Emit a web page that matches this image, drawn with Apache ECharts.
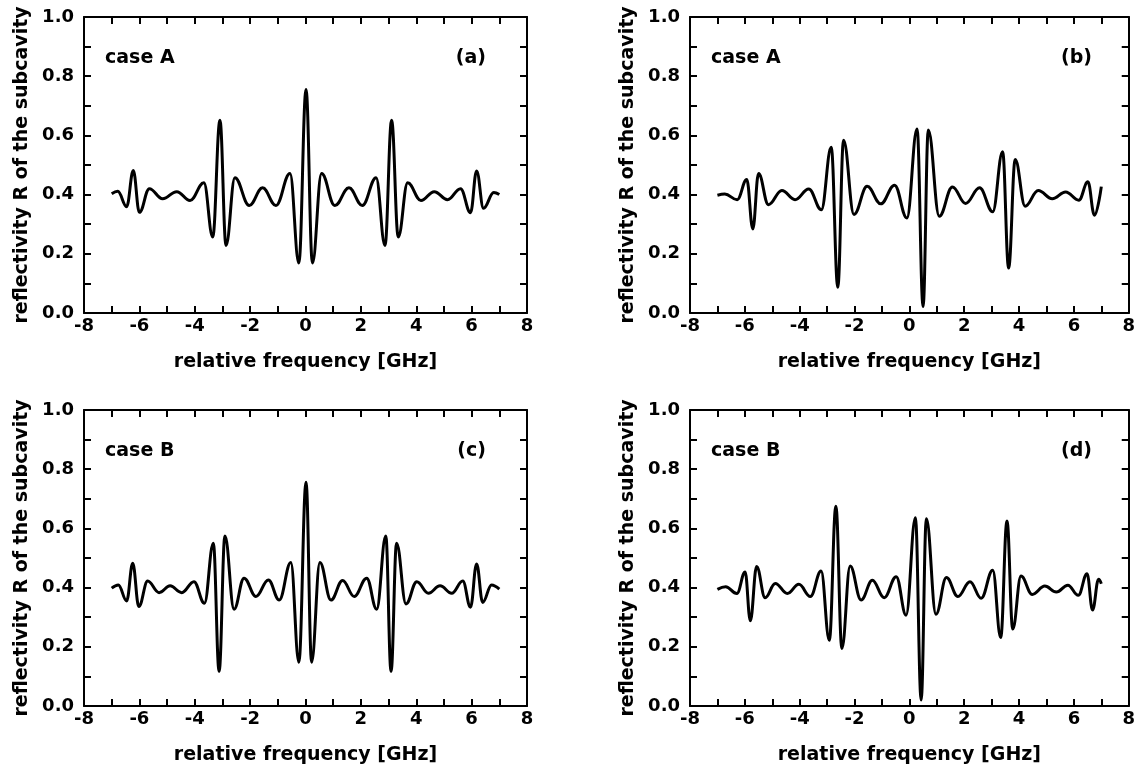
<!DOCTYPE html>
<html><head><meta charset="utf-8">
<script src="https://cdn.jsdelivr.net/npm/echarts@6/dist/echarts.min.js"></script>
<style>html,body{margin:0;padding:0;background:#fff}#c{width:1138px;height:769px}</style>
</head><body><div id="c"></div>
<script>
// Panel (a): case A
const freqA = [-7.0,-6.78,-6.46,-6.22,-6.0,-5.64,-5.16,-4.65,-4.17,-3.67,-3.35,-3.09,-2.87,-2.55,-2.03,-1.55,-1.07,-0.56,-0.24,0.02,0.25,0.58,1.06,1.57,2.05,2.55,2.87,3.11,3.35,3.69,4.17,4.65,5.13,5.60,5.96,6.18,6.43,6.80,7.0];
const reflA = [0.403,0.411,0.359,0.481,0.340,0.420,0.386,0.410,0.380,0.440,0.257,0.651,0.228,0.457,0.363,0.423,0.363,0.471,0.169,0.755,0.169,0.471,0.363,0.423,0.363,0.457,0.228,0.651,0.257,0.440,0.380,0.410,0.383,0.420,0.339,0.480,0.354,0.407,0.400];
// Panel (b): case A
const freqB = [-7.0,-6.73,-6.28,-5.93,-5.71,-5.50,-5.14,-4.65,-4.17,-3.67,-3.21,-2.85,-2.61,-2.40,-2.02,-1.54,-1.04,-0.54,-0.09,0.28,0.50,0.69,1.09,1.57,2.05,2.56,3.04,3.40,3.62,3.86,4.22,4.70,5.21,5.70,6.18,6.51,6.75,7.0];
const reflB = [0.398,0.402,0.383,0.451,0.284,0.471,0.366,0.414,0.383,0.419,0.349,0.560,0.087,0.584,0.333,0.428,0.369,0.432,0.321,0.622,0.022,0.618,0.327,0.426,0.370,0.423,0.342,0.545,0.152,0.519,0.361,0.414,0.386,0.409,0.381,0.443,0.330,0.427];
// Panel (c): case B
const freqC = [-7.0,-6.76,-6.46,-6.24,-6.02,-5.70,-5.29,-4.89,-4.47,-4.03,-3.65,-3.33,-3.12,-2.91,-2.58,-2.22,-1.79,-1.34,-0.95,-0.53,-0.24,0.02,0.22,0.52,0.92,1.34,1.76,2.21,2.57,2.90,3.09,3.29,3.63,4.02,4.44,4.86,5.28,5.68,5.96,6.18,6.40,6.72,7.0];
const reflC = [0.398,0.409,0.355,0.482,0.336,0.422,0.383,0.406,0.383,0.420,0.347,0.550,0.117,0.574,0.327,0.432,0.370,0.426,0.358,0.485,0.148,0.756,0.148,0.485,0.358,0.424,0.370,0.432,0.327,0.574,0.117,0.550,0.345,0.420,0.381,0.406,0.381,0.422,0.334,0.480,0.350,0.409,0.395];
// Panel (d): case B
const freqD = [-7.0,-6.70,-6.29,-5.99,-5.80,-5.57,-5.26,-4.89,-4.45,-4.03,-3.61,-3.22,-2.92,-2.68,-2.46,-2.16,-1.76,-1.35,-0.92,-0.48,-0.12,0.22,0.43,0.62,0.97,1.35,1.77,2.21,2.62,3.04,3.33,3.56,3.77,4.07,4.48,4.94,5.36,5.78,6.16,6.48,6.68,6.90,7.0];
const reflD = [0.394,0.403,0.380,0.453,0.288,0.471,0.366,0.414,0.380,0.411,0.370,0.456,0.222,0.675,0.194,0.473,0.358,0.425,0.366,0.437,0.307,0.636,0.020,0.633,0.310,0.434,0.370,0.420,0.364,0.459,0.231,0.625,0.260,0.439,0.377,0.405,0.385,0.408,0.374,0.447,0.324,0.428,0.413];

const caseLabels = ['case A','case A','case B','case B'];
const panelTags = ['(a)','(b)','(c)','(d)'];
const xTitle = 'relative frequency [GHz]';
const yTitle = 'reflectivity R of the subcavity';

const panels = [[freqA,reflA],[freqB,reflB],[freqC,reflC],[freqD,reflD]];
const FONT = '"DejaVu Sans", "Liberation Sans", Arial, sans-serif';
const gridPos = [{left:84,top:17},{left:690,top:17},{left:84,top:410},{left:690,top:410}];
const W = 443, H = 296;

const grid = [], xAxis = [], yAxis = [], series = [], title = [];
const mkTick = () => ({show:true, inside:true, length:7, lineStyle:{color:'#000', width:2}});
const mkLine = () => ({show:true, onZero:false, lineStyle:{color:'#000', width:2}});
const mkMinor = () => ({show:true, splitNumber:2, length:7, lineStyle:{color:'#000', width:2}});
gridPos.forEach((g, i) => {
  grid.push({left:g.left, top:g.top, width:W, height:H, containLabel:false});
  const xb = {type:'value', gridIndex:i, position:'bottom', min:-8, max:8, interval:2,
    axisLine:mkLine(), axisTick:mkTick(), minorTick:mkMinor(),
    splitLine:{show:false}, minorSplitLine:{show:false},
    axisLabel:{color:'#000', fontFamily:FONT, fontWeight:'bold', fontSize:18, margin:4},
    name:xTitle, nameLocation:'middle', nameGap:40,
    nameTextStyle:{color:'#000', fontFamily:FONT, fontWeight:'bold', fontSize:19}};
  const xt = {type:'value', gridIndex:i, position:'top', min:-8, max:8, interval:2,
    axisLine:mkLine(), axisTick:mkTick(), minorTick:mkMinor(),
    splitLine:{show:false}, minorSplitLine:{show:false}, axisLabel:{show:false}};
  const yl = {type:'value', gridIndex:i, position:'left', min:0, max:1, interval:0.2,
    axisLine:mkLine(), axisTick:mkTick(), minorTick:mkMinor(),
    splitLine:{show:false}, minorSplitLine:{show:false},
    axisLabel:{color:'#000', fontFamily:FONT, fontWeight:'bold', fontSize:18, margin:10,
      formatter:v => v.toFixed(1)},
    name:yTitle, nameLocation:'middle', nameGap:52,
    nameTextStyle:{color:'#000', fontFamily:FONT, fontWeight:'bold', fontSize:19}};
  const yr = {type:'value', gridIndex:i, position:'right', min:0, max:1, interval:0.2,
    axisLine:mkLine(), axisTick:mkTick(), minorTick:mkMinor(),
    splitLine:{show:false}, minorSplitLine:{show:false}, axisLabel:{show:false}};
  xAxis.push(xb, xt);
  yAxis.push(yl, yr);
  const [f, r] = panels[i];
  series.push({type:'line', xAxisIndex:2*i, yAxisIndex:2*i, showSymbol:false,
    smooth:0.4, smoothMonotone:'x', clip:true,
    lineStyle:{color:'#000', width:3},
    data:f.map((x, k) => [x, r[k]])});
  title.push({text:caseLabels[i], left:g.left+16, top:g.top+27,
    textStyle:{color:'#000', fontFamily:FONT, fontWeight:'bold', fontSize:19}});
  title.push({text:panelTags[i], right:1138-(g.left+W)+36, top:g.top+27,
    textStyle:{color:'#000', fontFamily:FONT, fontWeight:'bold', fontSize:19}});
});

const chart = echarts.init(document.getElementById('c'), null, {renderer:'canvas'});
chart.setOption({animation:false, backgroundColor:'#fff', title, grid, xAxis, yAxis, series});
</script></body></html>
